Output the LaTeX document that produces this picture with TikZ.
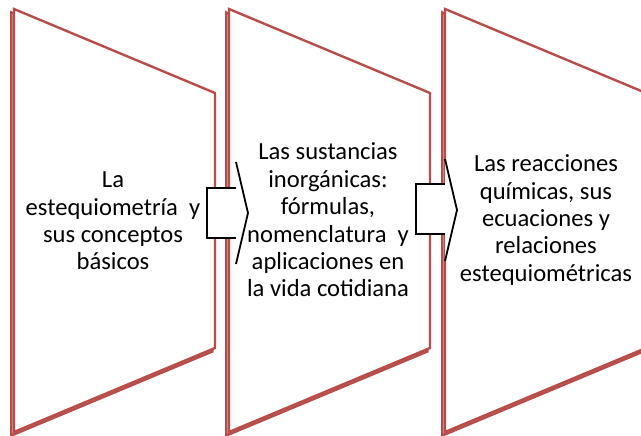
\documentclass[tikz,border=0pt]{standalone}
\usepackage{fontspec}
\setmainfont{Carlito}
\definecolor{panelred}{HTML}{B84C49}
\begin{document}
\begin{tikzpicture}[x=1pt,y=-1pt,
  shadowp/.style={draw=panelred,line width=2.4pt,line join=miter},
  panel/.style={draw=panelred,line width=2.4pt,fill=white,line join=miter},
  arrfill/.style={fill=white},
  arrline/.style={draw=black,line width=1.8pt,line join=miter},
  lbl/.style={align=center,font=\fontsize{24.6}{27.4}\selectfont,inner sep=0pt,text=black}]
\useasboundingbox (0,0) rectangle (641,436);
\foreach \L in {14,229,445} {
  \draw[shadowp] (\L-2.6,12.5) -- (\L+198.4,96.5) -- (\L+198.4,351.5) -- (\L-2.6,435.5) -- cycle;
  \draw[panel] (\L,9) -- (\L+201,93) -- (\L+201,348) -- (\L,432) -- cycle;
}
% arrow 1
\fill[arrfill] (207,188) -- (236,188) -- (236,162) -- (248,213) -- (236,264) -- (236,238) -- (207,238) -- cycle;
\draw[arrline] (236,188) -- (207,188) -- (207,238) -- (236,238);
\draw[arrline] (236,162) -- (248,213) -- (236,264);
% arrow 2
\fill[arrfill] (416,184) -- (445,184) -- (445,159) -- (457,210) -- (445,261) -- (445,234) -- (416,234) -- cycle;
\draw[arrline] (445,184) -- (416,184) -- (416,234) -- (445,234);
\draw[arrline] (445,159) -- (457,210) -- (445,261);
% texts
\node[lbl] (t1) at (113,221) {La\\estequiometría\ \ y\\sus conceptos\\básicos};
\node[lbl] (t2) at (328,220) {Las sustancias\\inorgánicas:\\fórmulas,\\nomenclatura\ \ y\\aplicaciones en\\la vida cotidiana};
\node[lbl] (t3) at (546,220) {Las reacciones\\químicas, sus\\ecuaciones y\\relaciones\\estequiométricas};
\end{tikzpicture}
\end{document}
